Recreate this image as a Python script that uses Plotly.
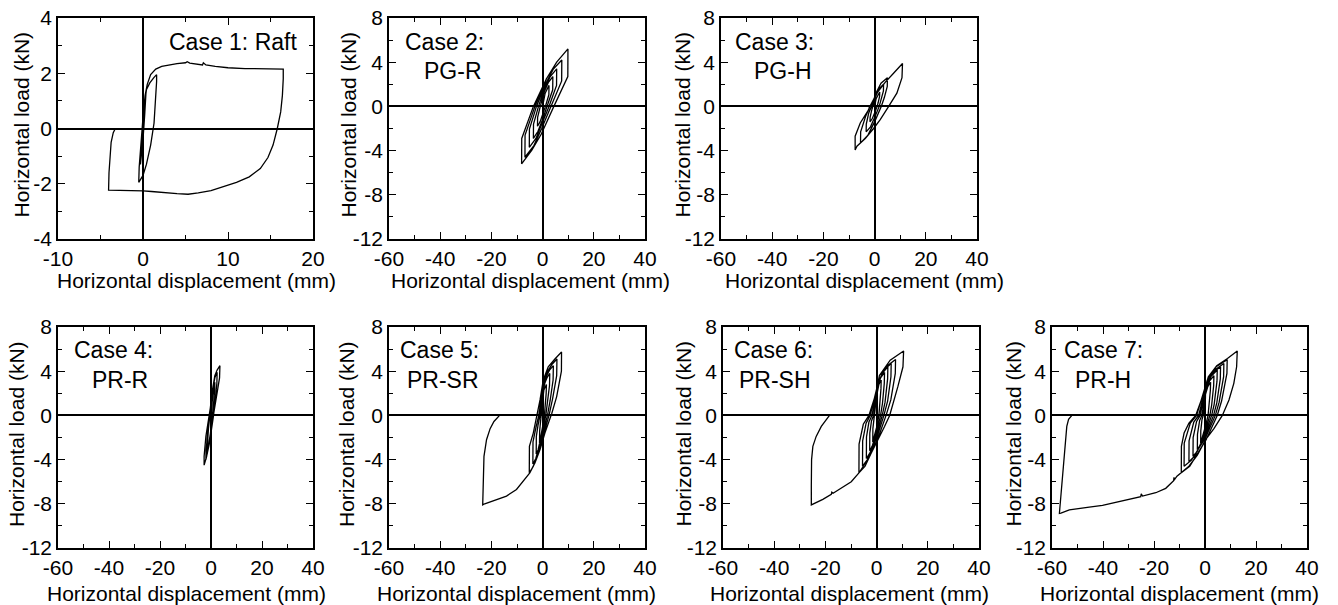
import plotly.graph_objects as go

W, H = 1338, 605

# ---------------- data ----------------
case1_x = [0, 0.15, 0.3, 0.35, 0.2, 0.0, -0.2, -0.3, -0.15, 0.0, 0.2, 0.4, 0.8, 1.3, 1.6, 1.6, 1.5, 1.3, 0.9, 0.4, 0.0,
           -0.35, -0.5, -0.45, -0.3, -0.15, 0.05, 0.25, 0.5, 0.9, 1.5, 2.2, 3.0, 4.0, 5.0, 5.2, 5.5, 6.5, 7.0, 7.1, 7.4,
           8.5, 10.0, 12.0, 14.0, 16.5, 16.5, 16.4, 16.2, 15.8, 15.3, 14.7, 13.8, 12.5, 11.0, 9.5, 8.0, 6.5, 5.3, 4.0,
           2.5, 1.0, 0.0, -1.5, -3.0, -4.05, -4.0, -3.9, -3.75, -3.5, -3.25]
case1_y = [0, 0.6, 1.1, 1.3, 0.5, -0.4, -1.0, -1.3, -0.6, 0.0, 0.9, 1.4, 1.65, 1.85, 1.95, 1.7, 1.0, 0.2, -0.6, -1.3,
           -1.7, -1.9, -1.95, -1.4, -0.7, -0.1, 0.6, 1.2, 1.6, 1.95, 2.15, 2.25, 2.3, 2.35, 2.38, 2.42, 2.37, 2.33, 2.3,
           2.38, 2.3, 2.25, 2.2, 2.17, 2.16, 2.15, 1.8, 1.2, 0.6, 0.0, -0.6, -1.05, -1.45, -1.75, -1.95, -2.1, -2.25,
           -2.33, -2.38, -2.36, -2.31, -2.28, -2.26, -2.24, -2.23, -2.23, -1.6, -1.0, -0.5, -0.15, 0.0]

case2_x = [0, 1.0, 2.5, 2.45, 1.1, -0.1, -1.0, -2.0, -1.95, -0.9, 0.6, 2.2, 4.0, 3.95, 1.8, -0.2, -1.8, -3.6,
           -3.55, -1.6, 0.8, 3.0, 5.5, 5.45, 2.5, -0.3, -2.6, -5.2, -5.15, -2.4, 1.1, 4.1, 7.5, 7.45, 3.4, -0.35,
           -3.4, -6.9, -6.85, -3.0, 1.5, 5.5, 9.9, 9.85, 4.4, -0.5, -4.2, -8.2, -8.15, -3.6, 1.5]
case2_y = [0, 1.2, 1.9, 1.05, 0, -0.8, -1.4, -1.8, -1.0, 0, 1.3, 2.15, 2.7, 1.5, 0, -1.3, -2.25, -2.9,
           -1.6, 0, 1.65, 2.7, 3.4, 1.9, 0, -1.65, -2.9, -3.7, -2.05, 0, 2.0, 3.35, 4.2, 2.3, 0, -2.0,
           -3.55, -4.6, -2.6, 0, 2.5, 4.0, 5.2, 2.7, 0, -2.5, -3.95, -5.2, -2.9, 0, 2.5]

case3_x = [0, 0.6, 2.0, 1.95, 1.4, 1.0, 0.0, -0.9, -1.8, -1.75, -1.2, -0.7, 0.4, 1.8, 3.5, 3.45, 2.6, 1.8, 0.0,
           -1.6, -3.3, -3.25, -2.3, -1.2, 0.5, 2.5, 5.0, 4.95, 3.8, 2.6, 0.0, -2.6, -5.5, -5.45, -3.5, -1.8, 0.9,
           4.2, 7.4, 10.9, 10.7, 8.7, 5.5, 2.2, -0.4, -3.65, -6.9, -7.6, -7.6, -5.6, -2.3, -2.0]
case3_y = [0, 0.7, 1.3, 0.9, 0.35, 0, -0.6, -1.1, -1.4, -1.0, -0.4, 0, 0.9, 1.6, 2.0, 1.4, 0.6, 0, -1.0,
           -1.85, -2.3, -1.6, -0.6, 0, 1.2, 2.1, 2.6, 1.8, 0.8, 0, -1.4, -2.6, -3.3, -2.3, -0.9, 0, 1.2,
           2.2, 3.0, 3.88, 2.6, 1.2, 0, -1.2, -2.0, -2.9, -3.6, -3.94, -2.7, -1.5, -0.3, 0]

case4_x = [0, 0.7, 1.5, 1.45, 0.9, 0.5, -0.5, -1.5, -1.45, -1.0, -0.45, 0.6, 1.5, 2.4, 2.3, 1.6, 1.0, -0.6,
           -1.4, -2.0, -1.95, -1.3, -0.6, 0.5, 1.5, 2.4, 3.5, 3.35, 2.0, 0.9, -0.65, -1.7, -2.7, -2.7, -2.0,
           -0.65, 0.3]
case4_y = [0, 1.8, 3.0, 2.3, 0.8, 0, -2.2, -3.5, -2.8, -1.2, 0, 2.2, 3.4, 3.9, 2.9, 1.1, 0, -2.5,
           -3.5, -4.0, -3.2, -1.4, 0, 2.2, 3.6, 4.1, 4.5, 3.4, 1.4, 0, -2.2, -3.7, -4.5, -3.7, -1.9,
           0, 1.5]

case5_x = [0, 0.1, 0.5, 1.5, 1.4, 1.05, 0.7, 0.1, -0.4, -0.85, -1.2, -1.15, -0.85, -0.5, -0.2, 0.1, 0.85, 1.8,
           2.8, 2.7, 1.95, 1.25, 0.15, -0.9, -1.75, -2.5, -2.45, -1.8, -1.0, -0.45, 0.15, 1.25, 2.7, 4.2, 4.1,
           2.95, 1.9, 0.2, -1.35, -2.65, -3.8, -3.75, -2.7, -1.5, -0.7, 0.2, 1.7, 3.6, 5.6, 5.5, 3.9, 2.5, 0.3,
           -1.8, -3.6, -5.2, -5.15, -3.65, -2.1, -1.0, 0.26, 2.2, 4.8, 7.4, 7.35, 5.5, 3.6, 3.3, 0.9, -1.0, -3.0,
           -5.0, -7.6, -10.2, -14.1, -18.0, -21.3, -22.6, -23.4, -23.3, -23.2, -22.9, -21.9, -20.5, -19.0,
           -17.5, -16.8]
case5_y = [0, 1.5, 2.3, 2.8, 2.0, 0.85, 0, -0.9, -1.6, -2.2, -2.5, -1.4, -0.75, 0, 0.9, 2.1, 2.9, 3.45,
           3.8, 2.7, 1.1, 0, -1.2, -2.3, -3.1, -3.5, -1.9, -0.9, 0, 1.1, 2.5, 3.45, 4.1, 4.5, 3.2,
           1.35, 0, -1.5, -2.85, -3.9, -4.4, -2.4, -1.2, 0, 1.3, 2.85, 3.9, 4.6, 5.1, 3.6, 1.5, 0, -1.8,
           -3.4, -4.6, -5.2, -2.8, -1.6, 0, 1.4, 3.2, 4.4, 5.1, 5.74, 4.0, 1.7, 0.2, 0, -1.6, -3.1, -4.3,
           -5.2, -6.0, -6.7, -7.3, -7.6, -7.9, -8.0, -8.1, -7.0, -5.5, -3.7, -2.2, -1.2, -0.55,
           -0.1, 0]

case6_x = [0, 0.2, 0.9, 1.8, 1.7, 1.35, 0.9, 0.1, -1.0, -1.5, -1.45, -1.1, -0.7, 0.3, 1.55, 3.1, 3.0, 2.3,
           1.55, 0.15, -1.75, -2.7, -2.65, -2.0, -1.2, 0.45, 2.2, 4.4, 4.3, 3.3, 2.2, 0.2, -2.6, -4.0, -3.95,
           -3.0, -1.8, 0.55, 2.85, 5.7, 5.6, 4.3, 2.85, 0.3, -3.6, -5.5, -5.45, -4.1, -2.5, 0.75, 3.7, 7.4,
           7.3, 5.55, 3.7, 0.35, -4.5, -6.9, -6.85, -5.2, -3.0, -0.5, 1.1, 5.3, 10.55, 10.3, 8.3, 6.4, 5.1,
           3.1, 0.5, -2.7, -6.6, -6.9, -9.9, -13.8, -17.0, -17.5, -17.7, -21.0, -23.6, -25.5, -25.5, -25.4,
           -24.9, -23.6, -21.6, -19.7, -18.4]
case6_y = [0, 2.0, 2.8, 3.2, 2.4, 0.9, 0, -1.0, -2.1, -2.4, -1.2, -0.35, 0, 2.4, 3.4, 3.9, 2.9, 1.1,
           0, -1.35, -2.8, -3.2, -1.6, -0.5, 0, 2.7, 3.8, 4.4, 3.3, 1.2, 0, -1.65, -3.4, -3.9, -1.95,
           -0.6, 0, 2.9, 4.1, 4.7, 3.5, 1.3, 0, -1.9, -4.0, -4.6, -2.3, -0.7, 0, 3.1, 4.4, 5.05,
           3.8, 1.4, 0, -2.2, -4.6, -5.2, -2.6, -0.8, 0, 1.8, 3.6, 5.0, 5.83, 4.4, 2.6, 1.1, 0,
           -1.0, -2.2, -3.7, -5.1, -5.2, -6.0, -6.6, -7.05, -6.95, -7.15, -7.6, -7.9, -8.1, -6.4, -4.0,
           -2.8, -1.9, -1.0, -0.36, 0]

case7_x = [0, 0.2, 1.1, 2.2, 2.1, 1.65, 1.2, 0.1, -1.1, -1.7, -1.65, -1.2, -0.7, 0.35, 1.75, 3.5, 3.4, 2.6,
           1.9, 0.2, -1.95, -3.0, -2.95, -2.1, -1.2, 0.5, 2.4, 4.8, 4.7, 3.6, 2.6, 0.25, -3.05, -4.7, -4.65,
           -3.3, -1.9, 0.6, 3.05, 6.1, 6.0, 4.6, 3.35, 0.3, -4.1, -6.3, -6.25, -4.4, -2.5, 0.75, 3.7, 7.4,
           7.3, 5.55, 4.05, 0.35, -5.3, -8.2, -8.15, -5.75, -3.3, 0.9, 4.35, 8.7, 8.6, 6.5, 4.8, 0.45, -6.0,
           -9.3, -9.25, -8.2, -6.3, -3.65, -0.8, 1.3, 4.6, 8.8, 12.65, 12.4, 11.3, 9.4, 6.8, 3.5, 0.26, -3.0,
           -6.3, -9.3, -11.0, -12.1, -12.15, -12.3, -15.4, -19.3, -24.5, -25.0, -25.2, -29.7, -34.9, -40.2,
           -45.4, -49.3, -53.2, -56.5, -57.1, -54.2, -53.5, -52.2]
case7_y = [0, 1.9, 2.6, 3.0, 2.25, 0.75, 0, -1.05, -2.2, -2.5, -1.4, -0.4, 0, 2.3, 3.1, 3.6, 2.7, 0.9,
           0, -1.3, -2.7, -3.1, -1.7, -0.45, 0, 2.6, 3.55, 4.1, 3.1, 1.0, 0, -1.55, -3.25, -3.7, -2.0,
           -0.55, 0, 2.8, 3.85, 4.4, 3.3, 1.1, 0, -1.75, -3.7, -4.2, -2.3, -0.6, 0, 2.95, 4.1, 4.7,
           3.5, 1.2, 0, -1.95, -4.05, -4.6, -2.5, -0.7, 0, 3.2, 4.4, 5.05, 3.8, 1.3, 0, -2.2, -4.6,
           -5.2, -2.8, -1.6, -0.7, 0, 1.8, 3.5, 4.5, 5.15, 5.83, 4.4, 2.9, 1.4, 0, -1.2, -2.2, -3.6,
           -4.6, -5.2, -5.5, -5.85, -5.6, -5.9, -6.6, -7.0, -7.3, -7.1, -7.35, -7.6, -7.9, -8.15,
           -8.3, -8.4, -8.55, -8.85, -8.87, -1.0, -0.35, 0]

case_labels = [["Case 1: Raft"], ["Case 2:", "PG-R"], ["Case 3:", "PG-H"], ["Case 4:", "PR-R"],
               ["Case 5:", "PR-SR"], ["Case 6:", "PR-SH"], ["Case 7:", "PR-H"]]

x_ticks_raft = [-10, 0, 10, 20]
x_ticklabels_raft = ["-10", "0", "10", "20"]
x_minor_raft = [-5, 5, 15]
y_ticks_raft = [-4, -2, 0, 2, 4]
y_ticklabels_raft = ["-4", "-2", "0", "2", "4"]
y_minor_raft = [-3, -1, 1, 3]
x_ticks = [-60, -40, -20, 0, 20, 40]
x_ticklabels = ["-60", "-40", "-20", "0", "20", "40"]
x_minor = [-50, -30, -10, 10, 30]
y_ticks = [-12, -8, -4, 0, 4, 8]
y_ticklabels = ["-12", "-8", "-4", "0", "4", "8"]
y_minor = [-10, -6, -2, 2, 6]

x_title = "Horizontal displacement (mm)"
y_title = "Horizontal load (kN)"

# ---------------- layout geometry (page pixels) ----------------
FONT = "Arial, Liberation Sans, Helvetica, sans-serif"
panels = [
    dict(x=case1_x, y=case1_y, box=(58, 313, 18, 239), raft=True),
    dict(x=case2_x, y=case2_y, box=(389, 645, 18, 239), raft=False),
    dict(x=case3_x, y=case3_y, box=(721, 977, 18, 239), raft=False),
    dict(x=case4_x, y=case4_y, box=(58, 313, 327, 548), raft=False),
    dict(x=case5_x, y=case5_y, box=(389, 645, 327, 548), raft=False),
    dict(x=case6_x, y=case6_y, box=(723, 979, 327, 548), raft=False),
    dict(x=case7_x, y=case7_y, box=(1052, 1307, 327, 548), raft=False),
]
xtitle_cx = [196.5, 530, 864, 186, 516, 849, 1179]
ytitle_cx = [21.5, 348.5, 682.5, 16, 346, 682.5, 1012.5]
label_pos = [  # (x_left_or_right, y_center) for line 1 and line 2
    [(299, 41.5)],
    [(403, 42.5), (422, 71.5)],
    [(733, 42.5), (752, 71.5)],
    [(72, 349.5), (90, 379.5)],
    [(398, 349.5), (405, 379.5)],
    [(732, 349.5), (737, 379.5)],
    [(1062, 349.5), (1073, 379.5)],
]


def fx(px):
    return px / W


def fy(py):
    return 1 - py / H


fig = go.Figure()
annotations = []
layout_axes = {}


def axis_common(minor_vals):
    return dict(ticks="inside", ticklen=7, tickwidth=1.2, tickcolor="black",
                showline=True, linewidth=1.5, linecolor="black", mirror="ticks",
                zeroline=True, zerolinecolor="black", zerolinewidth=2,
                showgrid=False, fixedrange=True, automargin=False,
                ticklabeloverflow="allow",
                minor=dict(tickmode="array", tickvals=minor_vals, ticks="inside", ticklen=4,
                           tickwidth=1.2, tickcolor="black", showgrid=False),
                tickfont=dict(family=FONT, size=21, color="black"))


for i, p in enumerate(panels, start=1):
    l, r, t, b = p["box"]
    sfx = "" if i == 1 else str(i)
    fig.add_trace(go.Scatter(x=p["x"], y=p["y"], mode="lines",
                             line=dict(color="black", width=1.3),
                             xaxis="x" + sfx, yaxis="y" + sfx, showlegend=False,
                             hoverinfo="skip"))
    if p["raft"]:
        xr, xt, xl, xm = [-10, 20], x_ticks_raft, x_ticklabels_raft, x_minor_raft
        yr, yt, yl, ym = [-4, 4], y_ticks_raft, y_ticklabels_raft, y_minor_raft
    else:
        xr, xt, xl, xm = [-60, 40], x_ticks, x_ticklabels, x_minor
        yr, yt, yl, ym = [-12, 8], y_ticks, y_ticklabels, y_minor
    xa = axis_common(xm)
    xa.update(domain=[fx(l), fx(r)], range=xr, tickmode="array", tickvals=xt, ticktext=xl,
              anchor="y" + sfx)
    ya = axis_common(ym)
    ya.update(domain=[fy(b), fy(t)], range=yr, tickmode="array", tickvals=yt, ticktext=yl,
              anchor="x" + sfx)
    layout_axes["xaxis" + sfx] = xa
    layout_axes["yaxis" + sfx] = ya

    # axis titles
    xt_y = 280 if b < 300 else 593
    annotations.append(dict(text=x_title, xref="paper", yref="paper",
                            x=fx(xtitle_cx[i - 1]), y=fy(xt_y),
                            xanchor="center", yanchor="middle", showarrow=False,
                            font=dict(family=FONT, size=21, color="black")))
    annotations.append(dict(text=y_title, xref="paper", yref="paper",
                            x=fx(ytitle_cx[i - 1]), y=fy((t + b) / 2 - 3.5),
                            xanchor="center", yanchor="middle", textangle=-90, showarrow=False,
                            font=dict(family=FONT, size=21, color="black")))
    # case labels
    for j, txt in enumerate(case_labels[i - 1]):
        px, py = label_pos[i - 1][j]
        annotations.append(dict(text=txt, xref="paper", yref="paper",
                                x=fx(px), y=fy(py),
                                xanchor="right" if p["raft"] else "left", yanchor="middle",
                                showarrow=False,
                                font=dict(family=FONT, size=23, color="black")))

fig.update_layout(width=W, height=H, margin=dict(l=0, r=0, t=0, b=0, pad=0, autoexpand=False),
                  paper_bgcolor="white", plot_bgcolor="white",
                  annotations=annotations, **layout_axes)

# remove the page's default body margin so the figure fills the 1338x605 window exactly
fig.write_html("out.html", config={"displayModeBar": False},
               post_script="document.body.style.margin='0px';document.body.style.overflow='hidden';")
